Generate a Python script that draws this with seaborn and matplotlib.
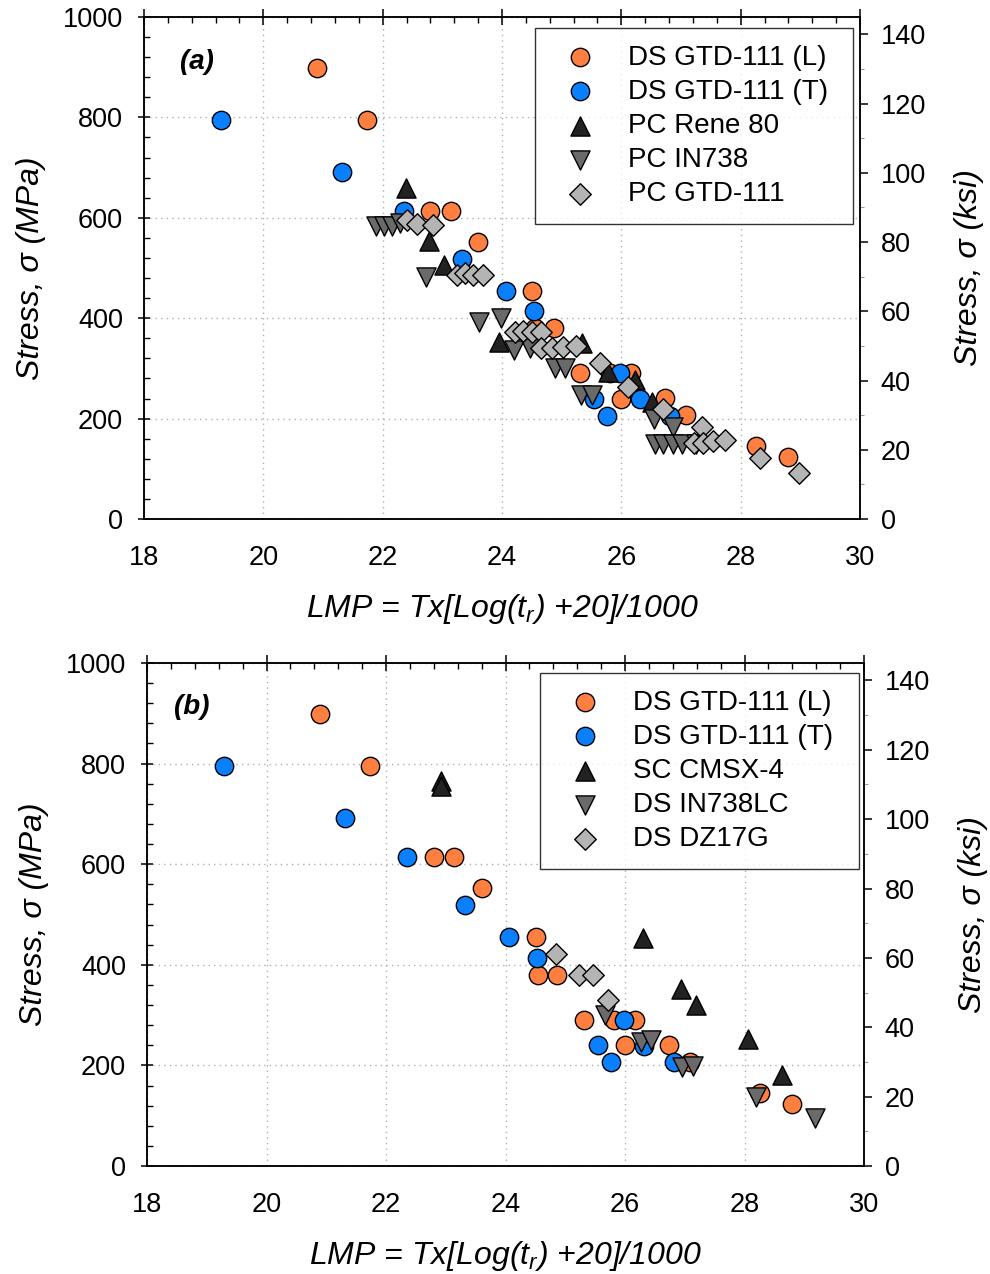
import numpy as np
import pandas as pd
import matplotlib
matplotlib.use("Agg")
import matplotlib.pyplot as plt
from matplotlib.ticker import MultipleLocator
import seaborn as sns

# ---------------- data ----------------
L_lmp = [20.90, 21.73, 22.80, 23.14, 23.60, 24.51, 24.55, 24.87, 25.31, 25.81, 26.16, 26.00, 26.73, 27.08, 28.26, 28.80]
L_stress = [898, 795, 614, 614, 552, 455, 380, 380, 290, 290, 290, 240, 241, 207, 145, 124]

T_lmp = [19.29, 21.32, 22.35, 23.33, 24.06, 24.53, 25.54, 25.76, 25.98, 26.32, 26.82]
T_stress = [795, 691, 614, 518, 455, 414, 240, 206, 290, 239, 206]

rene_lmp = [22.39, 22.78, 23.03, 23.95, 25.34, 25.78, 26.23, 26.52]
rene_stress = [659, 553, 505, 353, 350, 293, 277, 234]

in738_lmp = [21.89, 22.02, 22.15, 22.29, 22.72, 23.61, 23.98, 24.20, 24.47, 24.89, 25.06,
             25.33, 25.50, 26.54, 26.87, 26.56, 26.70, 26.86, 27.01, 27.25]
in738_stress = [584, 584, 584, 590, 483, 393, 400, 337, 340, 300, 300,
                247, 247, 199, 183, 150, 150, 150, 150, 150]

pcgtd_lmp = [22.40, 22.58, 22.85, 23.25, 23.38, 23.52, 23.68, 24.22, 24.36, 24.50, 24.66,
             24.65, 24.83, 25.03, 25.24, 25.64, 26.12, 26.70, 27.35, 27.21, 27.37, 27.54,
             27.74, 28.32, 28.98]
pcgtd_stress = [595, 588, 586, 487, 490, 487, 487, 372, 375, 373, 373,
                340, 340, 342, 345, 310, 262, 220, 184, 152, 152, 155,
                158, 121, 91]

cmsx_lmp = [22.92, 22.92, 26.30, 26.94, 27.19, 28.06, 28.62]
cmsx_stress = [765, 755, 453, 351, 321, 252, 181]

in738lc_lmp = [25.67, 26.26, 26.43, 26.96, 27.14, 28.19, 29.18]
in738lc_stress = [300, 247, 250, 197, 199, 138, 95]

dz17g_lmp = [24.84, 25.23, 25.47, 25.72]
dz17g_stress = [421, 379, 379, 330]

labels_a = ["DS GTD-111 (L)", "DS GTD-111 (T)", "PC Rene 80", "PC IN738", "PC GTD-111"]
labels_b = ["DS GTD-111 (L)", "DS GTD-111 (T)", "SC CMSX-4", "DS IN738LC", "DS DZ17G"]

MPA_PER_KSI = 6.895

# ---------------- style ----------------
sns.set_theme(style="white")
plt.rcParams["font.family"] = ["Liberation Sans", "DejaVu Sans"]
plt.rcParams["mathtext.fontset"] = "custom"
plt.rcParams["mathtext.rm"] = "Liberation Sans"
plt.rcParams["mathtext.it"] = "Liberation Sans:italic"
plt.rcParams["axes.linewidth"] = 1.1
for k in ["text.color", "axes.labelcolor", "xtick.color", "ytick.color", "axes.edgecolor"]:
    plt.rcParams[k] = "black"

styles = [
    dict(marker="o", color="#FF7F40", s=175),
    dict(marker="o", color="#0A80FF", s=175),
    dict(marker="^", color="#222222", s=190),
    dict(marker="v", color="#6A6A6A", s=190),
    dict(marker="D", color="#B4B4B4", s=120),
]

fig = plt.figure(figsize=(9.9, 12.74), dpi=100)
ax_a = fig.add_axes([144 / 990, 1 - 519 / 1274, 716 / 990, 502 / 1274])
ax_b = fig.add_axes([147 / 990, 1 - 1166 / 1274, 717 / 990, 503 / 1274])


def draw_panel(ax, series, labels, tag, leg_bbox, rpad):
    for (xs, ys), lab, st in zip(series, labels, styles):
        df = pd.DataFrame({"LMP": xs, "Stress": ys})
        sns.scatterplot(data=df, x="LMP", y="Stress", ax=ax, marker=st["marker"],
                        color=st["color"], s=st["s"], edgecolor="black",
                        linewidth=1.0, label=lab, zorder=3, clip_on=False)
    ax.set_xlim(18, 30)
    ax.set_ylim(0, 1000)
    ax.xaxis.set_major_locator(MultipleLocator(2))
    ax.xaxis.set_minor_locator(MultipleLocator(0.4))
    ax.yaxis.set_major_locator(MultipleLocator(200))
    ax.yaxis.set_minor_locator(MultipleLocator(40))
    ax.grid(True, which="major", linestyle=(0, (1, 3)), color="#B0B0B0", linewidth=1.0)
    ax.set_axisbelow(True)
    ax.tick_params(axis="x", which="major", direction="inout", length=11, width=1.1,
                   labelsize=19.5, pad=13, top=True)
    ax.tick_params(axis="x", which="minor", direction="in", length=4, width=1.0, top=True)
    ax.tick_params(axis="y", which="major", direction="inout", length=8, width=1.1,
                   labelsize=19.5, pad=11, right=False)
    ax.tick_params(axis="y", which="minor", direction="in", length=4, width=1.0, right=False)
    ax.set_xlabel(r"LMP = Tx[Log(t$_r$) +20]/1000", fontsize=23, style="italic", labelpad=15)
    ax.set_ylabel("Stress, σ (MPa)", fontsize=23, style="italic", labelpad=12)
    for sp in ax.spines.values():
        sp.set_color("black")
        sp.set_linewidth(1.1)
    ax.text(tag[1], tag[2], tag[0], transform=ax.transAxes, fontsize=20,
            fontweight="bold", style="italic", ha="center", va="center")
    leg = ax.legend(loc="upper left", bbox_to_anchor=leg_bbox, mode="expand", fontsize=20,
                    frameon=True, fancybox=False, edgecolor="black",
                    borderpad=0.6, labelspacing=0.29, handletextpad=0.7,
                    borderaxespad=0, markerscale=1.0, handlelength=2.05)
    leg.get_frame().set_linewidth(1.0)
    leg.set_zorder(5)

    ax2 = ax.twinx()
    ax2.set_ylim(0, 1000 / MPA_PER_KSI)
    ax2.yaxis.set_major_locator(MultipleLocator(20))
    ax2.yaxis.set_minor_locator(MultipleLocator(10))
    ax2.tick_params(axis="y", which="major", direction="out", length=6, width=1.1,
                    labelsize=19.5, pad=9)
    ax2.tick_params(axis="y", which="minor", direction="out", length=3, width=0.8,
                    color="#999999")
    ax2.set_ylabel("Stress, σ (ksi)", fontsize=23, style="italic", labelpad=rpad)
    ax2.grid(False)
    for sp in ax2.spines.values():
        sp.set_color("black")
        sp.set_linewidth(1.1)


series_a = [(L_lmp, L_stress), (T_lmp, T_stress), (rene_lmp, rene_stress),
            (in738_lmp, in738_stress), (pcgtd_lmp, pcgtd_stress)]
series_b = [(L_lmp, L_stress), (T_lmp, T_stress), (cmsx_lmp, cmsx_stress),
            (in738lc_lmp, in738lc_stress), (dz17g_lmp, dz17g_stress)]

draw_panel(ax_a, series_a, labels_a, ("(a)", 0.074, 0.91), (0.546, 0.0, 0.444, 0.978), 20)
draw_panel(ax_b, series_b, labels_b, ("(b)", 0.062, 0.913), (0.548, 0.0, 0.445, 0.980), 20)

fig.savefig("out.png", dpi=100)
